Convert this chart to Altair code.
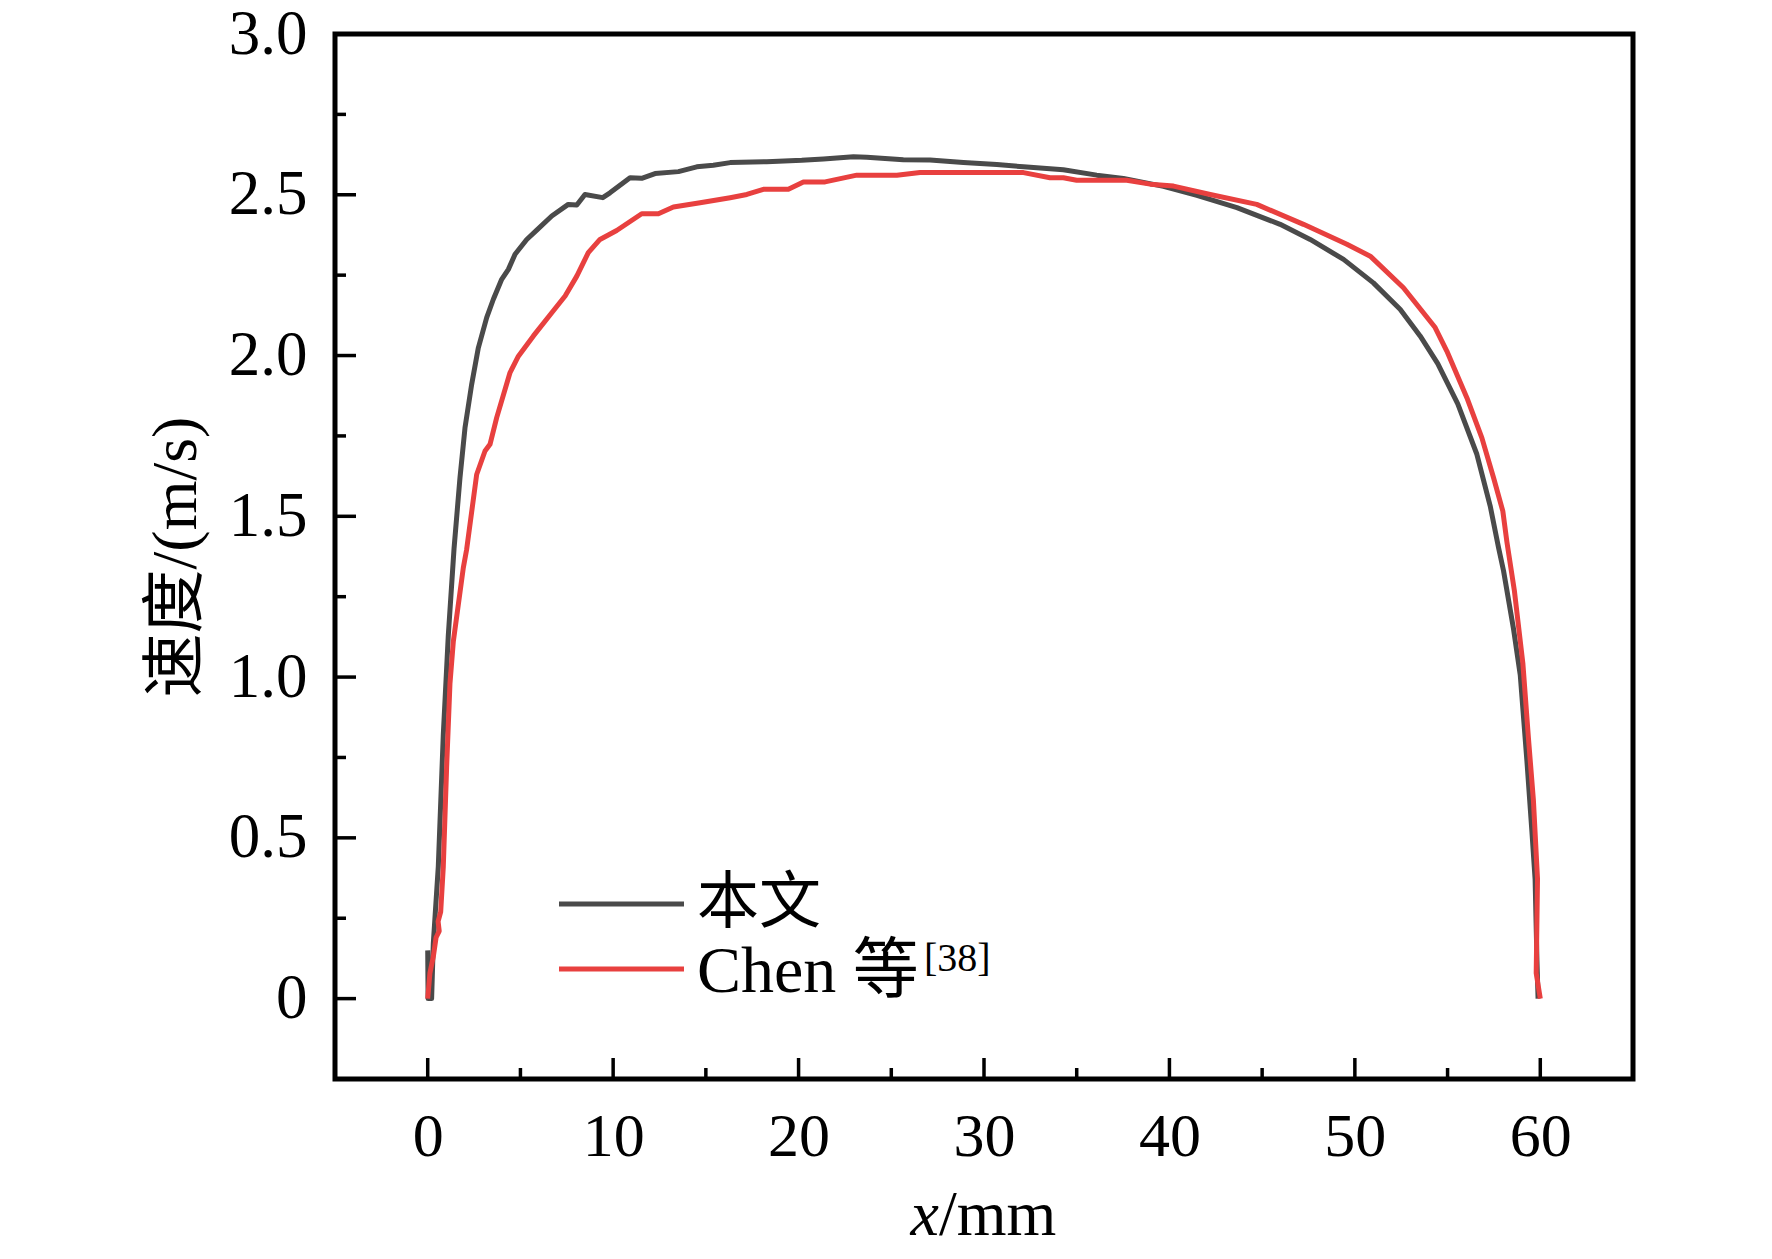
import altair as alt
import pandas as pd

# ---- data ----
black_x = [0, 0.02, 0.21, 0.3, 0.57, 0.84, 1.11, 1.42, 1.74, 2.01,
           2.37, 2.73, 3.18, 3.54, 3.99, 4.35, 4.71, 5.34, 5.88, 6.69,
           7.58, 8.04, 8.48, 9.44, 9.83, 10.91, 11.54, 12.26, 13.52, 14.51,
           15.40, 16.31, 18.28, 20.17, 21.34, 22.96, 23.68, 25.65, 27.09, 28.89,
           30.69, 32.13, 34.28, 36.08, 37.52, 39.68, 41.48, 43.64, 45.97, 47.59,
           49.39, 51.0, 52.44, 53.52, 54.47, 55.55, 56.58, 57.30, 57.75, 58.02,
           58.55, 58.92, 59.28, 59.55, 59.72, 59.82, 59.88]
black_y = [0.15, 0, 0, 0.17, 0.41, 0.82, 1.13, 1.40, 1.62, 1.775,
           1.91, 2.024, 2.118, 2.175, 2.237, 2.268, 2.315, 2.361, 2.39, 2.434,
           2.47, 2.468, 2.501, 2.491, 2.506, 2.553, 2.551, 2.566, 2.572, 2.587,
           2.592, 2.600, 2.603, 2.607, 2.611, 2.618, 2.617, 2.609, 2.608, 2.600,
           2.594, 2.587, 2.578, 2.561, 2.551, 2.526, 2.498, 2.460, 2.408, 2.361,
           2.299, 2.226, 2.144, 2.061, 1.975, 1.85, 1.693, 1.532, 1.402, 1.33,
           1.152, 1.006, 0.738, 0.518, 0.372, 0.12, 0]

red_x = [0, 0.12, 0.30, 0.45, 0.62, 0.56, 0.70, 0.84, 1.02, 1.20,
         1.38, 1.92, 2.10, 2.64, 3.09, 3.36, 3.72, 4.44, 4.89, 5.70,
         6.69, 7.41, 8.04, 8.66, 9.29, 10.19, 11.54, 12.44, 13.25, 14.69,
         16.31, 17.21, 18.10, 19.45, 20.26, 21.43, 23.14, 25.30, 26.55, 32.13,
         33.56, 34.28, 35.0, 37.70, 38.96, 40.22, 42.20, 44.71, 47.23, 49.57,
         50.83, 52.62, 54.33, 54.96, 56.04, 56.85, 57.48, 57.98, 58.2, 58.6,
         59.06, 59.36, 59.63, 59.85, 59.78, 60.0]
red_y = [0, 0.08, 0.13, 0.19, 0.21, 0.24, 0.27, 0.41, 0.72, 0.98,
         1.11, 1.34, 1.397, 1.630, 1.703, 1.724, 1.807, 1.947, 1.998, 2.061,
         2.133, 2.185, 2.247, 2.320, 2.361, 2.389, 2.441, 2.441, 2.462, 2.475,
         2.491, 2.501, 2.517, 2.517, 2.540, 2.540, 2.561, 2.561, 2.569, 2.569,
         2.553, 2.553, 2.545, 2.545, 2.533, 2.527, 2.501, 2.470, 2.408, 2.346,
         2.309, 2.211, 2.087, 2.014, 1.869, 1.744, 1.620, 1.516, 1.42, 1.27,
         1.043, 0.811, 0.616, 0.372, 0.079, 0]

series_names = ["本文", "Chen 等"]
series_colors = ["#4a4a4a", "#e8403f"]
legend_sup = "[38]"

x_major = [0, 10, 20, 30, 40, 50, 60]
x_minor = [5, 15, 25, 35, 45, 55]
y_major = [0, 0.5, 1.0, 1.5, 2.0, 2.5, 3.0]
y_minor = [0.25, 0.75, 1.25, 1.75, 2.25, 2.75]

x_title_italic = "x"
x_title_rest = "/mm"
y_title = "速度/(m/s)"

# ---- build table ----
rows = []
for i, (a, b) in enumerate(zip(black_x, black_y)):
    rows.append({"x": a, "y": b, "series": series_names[0], "idx": i})
for i, (a, b) in enumerate(zip(red_x, red_y)):
    rows.append({"x": a, "y": b, "series": series_names[1], "idx": i})
df = pd.DataFrame(rows)

W, H = 1298, 1045
SERIF = "Liberation Serif"
CJK = "Noto Sans CJK SC"
MIXED = "Liberation Serif, Noto Sans CJK SC"

xs = alt.Scale(domain=[-5, 65], nice=False, zero=False)
ys = alt.Scale(domain=[-0.25, 3.0], nice=False, zero=False)

x_axis = alt.Axis(
    values=x_major, title=None, domain=False, ticks=False, grid=False,
    labelFont=SERIF, labelFontSize=62, labelPadding=27, labelColor="black",
    format="d")
y_axis = alt.Axis(
    values=y_major, title=y_title, domain=False, ticks=False, grid=False,
    labelFont=SERIF, labelFontSize=63, labelPadding=28, labelColor="black",
    labelExpr="datum.value == 0 ? '0' : format(datum.value, '.1f')",
    titleFont=MIXED, titleFontSize=64, titleFontWeight="normal",
    titleColor="black", titlePadding=20)

lines = alt.Chart(df).mark_line(strokeWidth=5, strokeJoin="round").encode(
    x=alt.X("x:Q", scale=xs, axis=x_axis),
    y=alt.Y("y:Q", scale=ys, axis=y_axis),
    color=alt.Color("series:N", scale=alt.Scale(domain=series_names, range=series_colors), legend=None),
    order="idx:Q",
)

def xticks(vals, length):
    return alt.Chart(pd.DataFrame({"x": vals})).mark_rule(color="black", strokeWidth=3.5).encode(
        x=alt.X("x:Q", scale=xs, axis=x_axis), y=alt.value(H), y2=alt.value(H - length))

def yticks(vals, length):
    return alt.Chart(pd.DataFrame({"y": vals})).mark_rule(color="black", strokeWidth=3.5).encode(
        y=alt.Y("y:Q", scale=ys, axis=y_axis), x=alt.value(0), x2=alt.value(length))

one = pd.DataFrame({"k": [0]})

x_title_a = alt.Chart(one).mark_text(font=SERIF, fontSize=64, fontStyle="italic", align="right",
                                     baseline="alphabetic", color="black").encode(
    x=alt.value(604), y=alt.value(1201), text=alt.value(x_title_italic))
x_title_b = alt.Chart(one).mark_text(font=SERIF, fontSize=64, align="left",
                                     baseline="alphabetic", color="black").encode(
    x=alt.value(604), y=alt.value(1201), text=alt.value(x_title_rest))

leg_line1 = alt.Chart(one).mark_rule(color=series_colors[0], strokeWidth=5).encode(
    x=alt.value(224), x2=alt.value(349), y=alt.value(870))
leg_line2 = alt.Chart(one).mark_rule(color=series_colors[1], strokeWidth=5).encode(
    x=alt.value(224), x2=alt.value(349), y=alt.value(935))
leg_text1 = alt.Chart(one).mark_text(font=CJK, fontSize=62, align="left", baseline="alphabetic",
                                     color="black").encode(
    x=alt.value(362), y=alt.value(889), text=alt.value(series_names[0]))
leg_text2 = alt.Chart(one).mark_text(font=MIXED, fontSize=66, align="left", baseline="alphabetic",
                                     color="black").encode(
    x=alt.value(362), y=alt.value(958), text=alt.value(series_names[1]))
leg_sup = alt.Chart(one).mark_text(font=SERIF, fontSize=40, align="left", baseline="alphabetic",
                                   color="black").encode(
    x=alt.value(589), y=alt.value(937), text=alt.value(legend_sup))

chart = alt.layer(
    lines,
    xticks(x_major, 21), xticks(x_minor, 11),
    yticks(y_major, 21), yticks(y_minor, 11),
    x_title_a, x_title_b,
    leg_line1, leg_line2, leg_text1, leg_text2, leg_sup,
).properties(
    width=W, height=H,
    autosize=alt.AutoSizeParams(type="none"),
    padding={"left": 327, "top": 26, "right": 131, "bottom": 172},
    background="white",
).configure_view(
    stroke="black", strokeWidth=5,
)

chart.save("out.html", embed_options={"renderer": "svg", "actions": False})
